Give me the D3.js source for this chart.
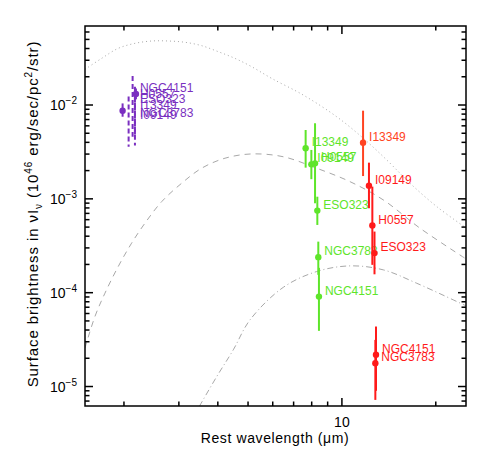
<!DOCTYPE html>
<html>
<head>
<meta charset="utf-8">
<script src="https://cdn.jsdelivr.net/npm/d3@7"></script>
<style>
  html, body { margin: 0; padding: 0; background: #fff; }
  svg { display: block; }
  text { font-family: "Liberation Sans", Arial, Helvetica, sans-serif; }
</style>
</head>
<body>
<svg id="chart" width="491" height="461"></svg>
<script>
// ---------------- DATA ----------------
const objects = ["NGC4151", "H0557", "ESO323", "I13349", "NGC3783", "I09149"];

// near-IR (purple) band ~2 micron
const nirLambda   = [2.185, 2.132, 2.169, 1.98, 2.07, 2.169];
const nirValue    = [0.0131, 0.0113, 0.0100, 0.0087, 0.0071, 0.0068];
const nirHi       = [0.0150, 0.0204, 0.0157, 0.0104, 0.0123, 0.0120];
const nirLo       = [0.0115, 0.0046, 0.0037, 0.0075, 0.0036, 0.0045];
const nirDetected = [true, false, false, true, false, false];

// mid-IR (green) band ~8 micron
const g8Lambda = [8.44, 8.20, 8.34, 7.65, 8.40, 7.98];
const g8Value  = [9.08e-5, 2.39e-3, 7.49e-4, 3.46e-3, 2.39e-4, 2.33e-3];
const g8Hi     = [1.84e-4, 6.39e-3, 1.054e-3, 5.42e-3, 3.50e-4, 3.32e-3];
const g8Lo     = [3.92e-5, 8.97e-4, 5.27e-4, 2.15e-3, 1.55e-4, 1.62e-3];

// mid-IR (red) band ~12.5 micron
const r12Lambda = [12.86, 12.52, 12.72, 11.69, 12.80, 12.21];
const r12Value  = [2.18e-5, 5.19e-4, 2.64e-4, 3.97e-3, 1.77e-5, 1.38e-3];
const r12Hi     = [4.36e-5, 1.35e-3, 4.48e-4, 8.7e-3, 3.14e-5, 2.43e-3];
const r12Lo     = [9.0e-6, 1.98e-4, 1.57e-4, 1.75e-3, 7.2e-6, 7.94e-4];

// model curves
const dotLambda = [1.50, 1.696, 1.918, 2.169, 2.454, 2.775, 3.138, 3.549, 4.013, 4.54, 5.135, 5.954, 7.52, 9.62, 11.71, 13.92, 16.54, 20.15, 25];
const dotValue  = [0.0240, 0.0314, 0.0402, 0.0454, 0.0481, 0.0481, 0.0466, 0.0429, 0.0370, 0.0314, 0.0256, 0.0192, 0.01276, 0.0075, 0.00442, 0.00260, 0.001466, 0.000826, 0.00049];

const dashLambda = [1.50, 1.614, 1.738, 1.917, 2.116, 2.335, 2.642, 3.062, 3.549, 4.217, 5.135, 6.486, 8.30, 10.62, 13.58, 17.81, 25];
const dashValue  = [2.58e-5, 5.57e-5, 9.88e-5, 1.90e-4, 3.37e-4, 5.50e-4, 9.33e-4, 1.466e-3, 2.12e-3, 2.71e-3, 3.01e-3, 2.81e-3, 2.12e-3, 1.524e-3, 9.73e-4, 4.86e-4, 2.29e-4];

const ddLambda = [3.49, 3.97, 4.484, 5.073, 6.486, 8.30, 10.62, 13.58, 17.38, 25];
const ddValue  = [6.15e-6, 1.28e-5, 2.46e-5, 5.13e-5, 1.14e-4, 1.68e-4, 1.93e-4, 1.75e-4, 1.26e-4, 7.24e-5];

// axes
const xDomain = [1.5, 25];
const yDomain = [6.2e-6, 0.0695];
const xMajorTicks = [10];
const xTickLabels = ["10"];
const yMajorTicks = [1e-5, 1e-4, 1e-3, 1e-2];
const yTickExponents = ["\u22125", "\u22124", "\u22123", "\u22122"];

// ---------------- DRAW ----------------
const svg = d3.select("#chart");
const L = 85, R = 466, T = 26, B = 406;

const x = d3.scaleLog().domain(xDomain).range([L, R]);
const y = d3.scaleLog().domain(yDomain).range([B, T]);

svg.append("rect").attr("width", 491).attr("height", 461).attr("fill", "#fff");

svg.append("defs").append("clipPath").attr("id", "clip")
  .append("rect").attr("x", L).attr("y", T).attr("width", R - L).attr("height", B - T);

const plot = svg.append("g").attr("clip-path", "url(#clip)");

const line = d3.line().x(d => x(d[0])).y(d => y(d[1])).curve(d3.curveCatmullRom.alpha(0.5));

function curve(lams, vals, dash) {
  plot.append("path")
    .attr("d", line(lams.map((l, i) => [l, vals[i]])))
    .attr("fill", "none")
    .attr("stroke", "#a8a8a8")
    .attr("stroke-width", 1)
    .attr("stroke-dasharray", dash);
}
curve(dotLambda, dotValue, "1,3");
curve(dashLambda, dashValue, "6,5");
curve(ddLambda, ddValue, "6,3,1,3");

// data groups
const colPurple = "#7a2fc0";
const colGreen = "#5ee52a";
const colRed = "#ff1a1a";
const colOrange = "#ff4422";

function group(lams, vals, his, los, color, detected, labelFixedX) {
  const g = svg.append("g");
  objects.forEach((name, i) => {
    const c = (color === colRed && name === "I13349") ? colOrange : color;
    const px = x(lams[i]), py = y(vals[i]);
    const isDet = detected ? detected[i] : true;
    g.append("line")
      .attr("x1", px).attr("x2", px)
      .attr("y1", y(his[i])).attr("y2", y(los[i]))
      .attr("stroke", c).attr("stroke-width", 2)
      .attr("stroke-dasharray", isDet ? null : "5,3");
    if (isDet) {
      g.append("circle").attr("cx", px).attr("cy", py).attr("r", 3.2).attr("fill", c);
    }
    const lx = labelFixedX ? labelFixedX : px + 6;
    g.append("text")
      .attr("x", lx).attr("y", py - 6)
      .attr("dominant-baseline", "central")
      .attr("font-size", 12)
      .attr("fill", c)
      .text(name);
  });
}
group(nirLambda, nirValue, nirHi, nirLo, colPurple, nirDetected, x(d3.max(nirLambda)) + 4);
group(g8Lambda, g8Value, g8Hi, g8Lo, colGreen, null, null);
group(r12Lambda, r12Value, r12Hi, r12Lo, colRed, null, null);

// axes frame
const ax = svg.append("g").attr("stroke", "#000").attr("stroke-width", 1.5);
ax.append("rect").attr("x", L).attr("y", T).attr("width", R - L).attr("height", B - T).attr("fill", "none");

// x ticks
const xMinor = [];
[1, 10].forEach(dec => { for (let k = 1; k <= 9; k++) { const v = k * dec; if (v >= xDomain[0] && v <= xDomain[1]) xMinor.push(v); } });
xMinor.forEach(v => {
  const len = xMajorTicks.includes(v) ? 8 : 4.5;
  ax.append("line").attr("x1", x(v)).attr("x2", x(v)).attr("y1", B).attr("y2", B - len);
  ax.append("line").attr("x1", x(v)).attr("x2", x(v)).attr("y1", T).attr("y2", T + len);
});
// y ticks
const yMinor = [];
[1e-6, 1e-5, 1e-4, 1e-3, 1e-2].forEach(dec => { for (let k = 1; k <= 9; k++) { const v = k * dec; if (v >= yDomain[0] && v <= yDomain[1]) yMinor.push(v); } });
yMinor.forEach(v => {
  const maj = yMajorTicks.some(m => Math.abs(m - v) / m < 1e-6);
  const len = maj ? 8 : 4.5;
  ax.append("line").attr("x1", L).attr("x2", L + len).attr("y1", y(v)).attr("y2", y(v));
  ax.append("line").attr("x1", R).attr("x2", R - len).attr("y1", y(v)).attr("y2", y(v));
});

// tick labels
xMajorTicks.forEach((v, i) => {
  svg.append("text").attr("x", x(v)).attr("y", 427).attr("text-anchor", "middle")
    .attr("font-size", 14).text(xTickLabels[i]);
});
yMajorTicks.forEach((v, i) => {
  const t = svg.append("text").attr("x", 77).attr("y", y(v) + 5).attr("text-anchor", "end").attr("font-size", 14);
  t.append("tspan").text("10");
  t.append("tspan").attr("dy", -6).attr("font-size", 10).text(yTickExponents[i]);
});

// axis titles
svg.append("text").attr("x", 275).attr("y", 443).attr("text-anchor", "middle")
  .attr("font-size", 14).attr("letter-spacing", 0.6)
  .text("Rest wavelength (\u03bcm)");

const yt = svg.append("text").attr("transform", "translate(38,214) rotate(-90)")
  .attr("text-anchor", "middle").attr("font-size", 15).attr("letter-spacing", 0.9);
yt.append("tspan").text("Surface brightness in \u03bdI");
yt.append("tspan").attr("font-size", 10).attr("dy", 4).text("\u03bd");
yt.append("tspan").attr("dy", -4).text(" (10");
yt.append("tspan").attr("font-size", 10).attr("dy", -6).text("46");
yt.append("tspan").attr("dy", 6).text(" erg/sec/pc");
yt.append("tspan").attr("font-size", 10).attr("dy", -6).text("2");
yt.append("tspan").attr("dy", 6).text("/str)");
</script>
</body>
</html>
